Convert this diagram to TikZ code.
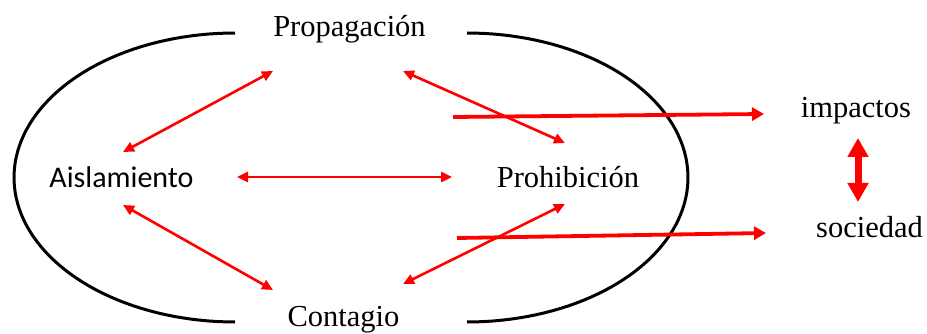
\documentclass[tikz,border=0pt]{standalone}
\usepackage{fontspec}
\setmainfont{Liberation Serif}
\newfontfamily\serifx{Liberation Serif}
\newfontfamily\calib{Carlito}
\usetikzlibrary{arrows.meta,calc}
\tikzset{
  lbl/.style={inner sep=0pt,anchor=base,font=\serifx\fontsize{30.5}{36}\selectfont},
  sanslbl/.style={inner sep=0pt,anchor=base,font=\calib\fontsize{30}{36}\selectfont},
  thinarr/.style={draw=red,line width=2.6pt,{Triangle[length=11pt,width=10pt]}-{Triangle[length=11pt,width=10pt]}},
  thickarr/.style={draw=red,line width=3.8pt,-{Triangle[length=12pt,width=13pt]}},
  bigarr/.style={draw=red,line width=7pt,{Triangle[length=19pt,width=20pt]}-{Triangle[length=19pt,width=20pt]}},
  ring/.style={draw=black,line width=3pt}}
\begin{document}
\begin{tikzpicture}[x=1pt,y=-1pt]
\useasboundingbox (0,0) rectangle (927,334);
% outer shape (two half ellipses)
\draw[ring] plot[domain=90:270,samples=80] ({235+221*cos(\x)},{177.5+144.5*sin(\x)});
\draw[ring] plot[domain=-90:90,samples=80] ({467+221*cos(\x)},{177.5+144.5*sin(\x)});
% labels
\node[lbl] (prop) at (349.5,37) {Propagación};
\node[sanslbl] (aisl) at (121.5,188) {Aislamiento};
\node[lbl] (proh) at (568,188) {Prohibición};
\node[lbl] (cont) at (343.5,326) {Contagio};
\node[lbl] (imp) at (856,118) {impactos};
\node[lbl] (soc) at (869.5,237) {sociedad};
\coordinate (t1) at (453,117);
\coordinate (t2) at (457,238);
% thin double arrows
\draw[thinarr] ($(aisl.base)+(1.5,-36)$) -- ($(prop.base)+(-76.5,34)$);
\draw[thinarr] ($(prop.base)+(53.5,34)$) -- ($(proh.base)+(-3,-45)$);
\draw[thinarr] ($(aisl.base)+(115.5,-11)$) -- ($(proh.base)+(-116,-11)$);
\draw[thinarr] ($(aisl.base)+(1.5,17)$) -- ($(cont.base)+(-70.5,-36)$);
\draw[thinarr] ($(cont.base)+(59.5,-42)$) -- ($(proh.base)+(-3,16)$);
% thick arrows
\draw[thickarr] (t1) -- ($(imp.base)+(-92,-4)$);
\draw[thickarr] (t2) -- ($(soc.base)+(-103.5,-4)$);
\draw[bigarr] ($(imp.base)+(2,20)$) -- ($(soc.base)+(-11.5,-35)$);
\end{tikzpicture}
\end{document}
